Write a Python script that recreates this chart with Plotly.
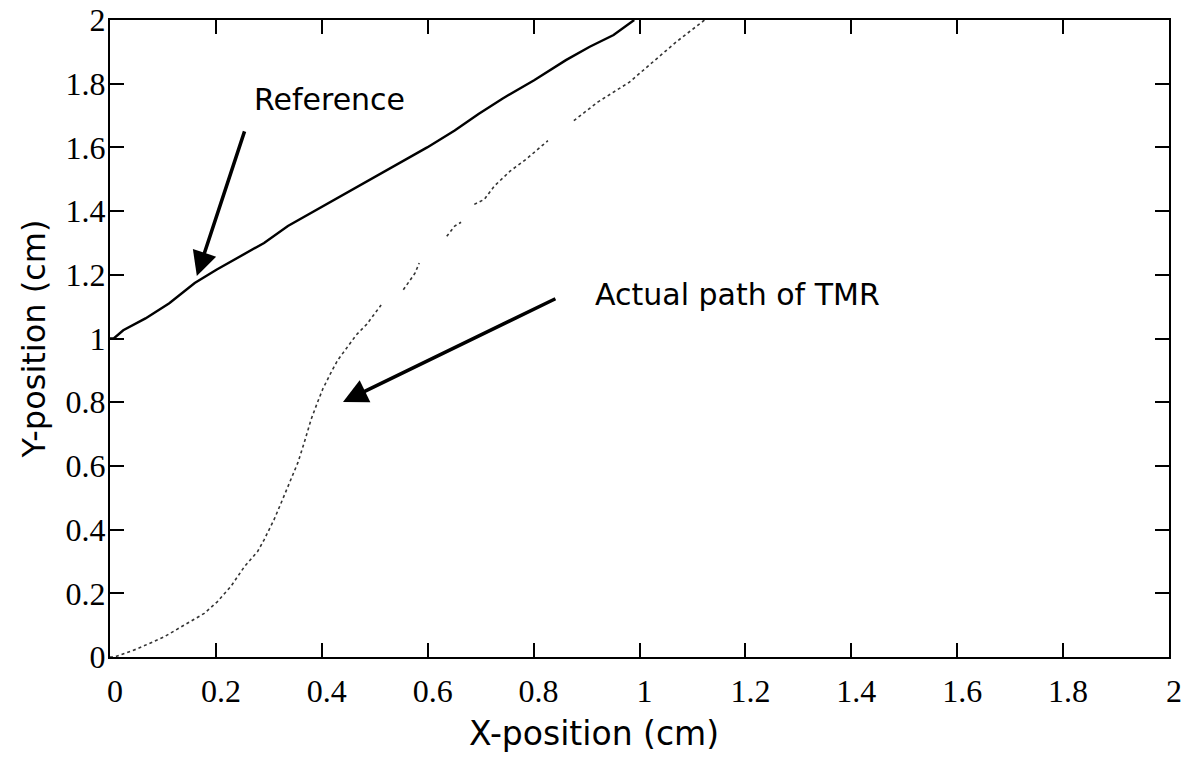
import plotly.graph_objects as go

# Reference path (solid line)
ref_x = [0.0, 0.007, 0.025, 0.067, 0.112, 0.160, 0.201, 0.246, 0.291, 0.336, 0.381,
         0.426, 0.471, 0.531, 0.599, 0.651, 0.696, 0.741, 0.801, 0.861, 0.906, 0.951, 0.99]
ref_y = [1.0, 1.0, 1.026, 1.063, 1.111, 1.174, 1.216, 1.258, 1.300, 1.353, 1.395,
         1.437, 1.479, 1.537, 1.600, 1.653, 1.705, 1.753, 1.811, 1.874, 1.916, 1.953, 2.0]

# Actual path of TMR (dotted, with gaps where the trace is missing)
act_x = [0.0, 0.008, 0.052, 0.102, 0.140, 0.178, 0.203, 0.228, 0.254, 0.279, 0.291,
         0.310, 0.326, 0.342, 0.355, 0.367, 0.380, 0.392, 0.402, 0.418, 0.430, 0.446,
         0.465, 0.485, 0.501, 0.512, None,
         0.554, 0.576, 0.584, None,
         0.636, 0.651, 0.663, None,
         0.688, 0.707, 0.726, 0.756, 0.786, 0.827, None,
         0.876, 0.921, 0.981, 1.025, 1.070, 1.123]
act_y = [0.0, 0.0, 0.026, 0.063, 0.100, 0.137, 0.174, 0.221, 0.284, 0.332, 0.368,
         0.432, 0.495, 0.558, 0.611, 0.674, 0.747, 0.800, 0.842, 0.895, 0.932, 0.968,
         1.011, 1.045, 1.079, 1.105, None,
         1.153, 1.205, 1.237, None,
         1.321, 1.353, 1.365, None,
         1.421, 1.437, 1.479, 1.526, 1.563, 1.621, None,
         1.684, 1.742, 1.805, 1.868, 1.932, 2.0]

tick_vals = [0, 0.2, 0.4, 0.6, 0.8, 1, 1.2, 1.4, 1.6, 1.8, 2]
tick_text = ["0", "0.2", "0.4", "0.6", "0.8", "1", "1.2", "1.4", "1.6", "1.8", "2"]

x_title = "X-position (cm)"
y_title = "Y-position (cm)"

fig = go.Figure()
fig.add_trace(go.Scatter(x=ref_x, y=ref_y, mode="lines",
                         line=dict(color="black", width=2.4), showlegend=False))
fig.add_trace(go.Scatter(x=act_x, y=act_y, mode="lines", connectgaps=False,
                         line=dict(color="#333333", width=1.6, dash="dot"), showlegend=False))

sans = "DejaVu Sans"
serif = "Liberation Serif"

# Arrows
fig.add_annotation(x=0.164, y=1.196, ax=0.255, ay=1.655, xref="x", yref="y",
                   axref="x", ayref="y", text="", showarrow=True,
                   arrowhead=2, arrowsize=1.4, arrowwidth=3.5, arrowcolor="black")
fig.add_annotation(x=0.440, y=0.801, ax=0.844, ay=1.127, xref="x", yref="y",
                   axref="x", ayref="y", text="", showarrow=True,
                   arrowhead=2, arrowsize=1.4, arrowwidth=3.5, arrowcolor="black")
# Labels
fig.add_annotation(x=0.415, y=1.749, xref="x", yref="y", text="Reference",
                   showarrow=False, font=dict(family=sans, size=30, color="black"))
fig.add_annotation(x=1.186, y=1.137, xref="x", yref="y", text="Actual path of TMR",
                   showarrow=False, font=dict(family=sans, size=30, color="black"))

# X axis title (sits slightly left of the plot centre in the original)
fig.add_annotation(x=0.914, xref="x", y=-0.12, yref="paper", yanchor="middle",
                   text=x_title, showarrow=False,
                   font=dict(family=sans, size=33, color="black"))

axis_common = dict(range=[0, 2], tickmode="array", tickvals=tick_vals, ticktext=tick_text,
                   ticks="inside", ticklen=14, tickwidth=2, tickcolor="black",
                   showline=True, linewidth=2, linecolor="black", mirror="ticks",
                   showgrid=False, zeroline=False, automargin=False,
                   tickfont=dict(family=serif, size=32, color="black"))

fig.update_xaxes(**axis_common, ticklabelshift=5, ticklabelstandoff=5)
fig.update_yaxes(**axis_common, ticklabelstandoff=-4,
                 title=dict(text=y_title, font=dict(family=sans, size=32, color="black"),
                            standoff=10))

fig.update_layout(width=1188, height=759,
                  margin=dict(l=110, r=19, t=20, b=102),
                  plot_bgcolor="white", paper_bgcolor="white")

fig.write_html("out.html")
